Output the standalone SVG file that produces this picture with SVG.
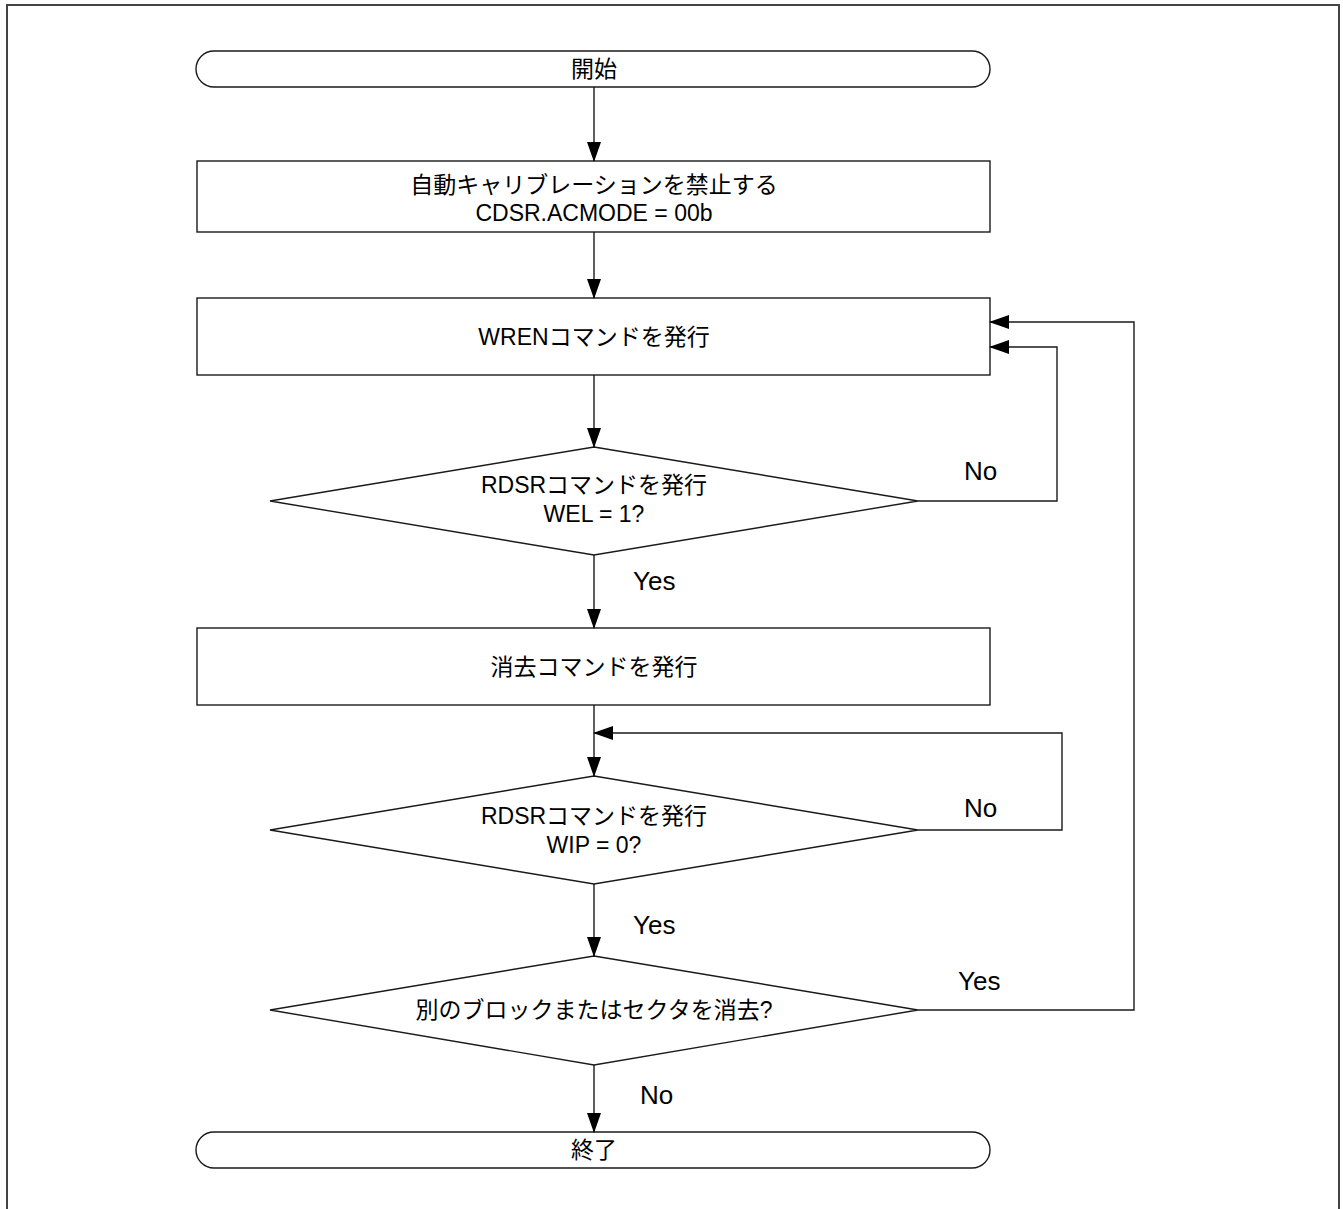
<svg xmlns="http://www.w3.org/2000/svg" width="1343" height="1209" viewBox="0 0 1343 1209">
<style>
.shape{fill:#fff;stroke:#1a1a1a;stroke-width:1.4}
.t{font-family:"Liberation Sans","Noto Sans CJK JP",sans-serif;font-size:23px;fill:#000;text-anchor:middle}
.lbl{font-family:"Liberation Sans",sans-serif;font-size:26px;fill:#000}
.edge{fill:none;stroke:#1a1a1a;stroke-width:1.4}
</style>
<defs>
<marker id="ah" markerWidth="20" markerHeight="14" refX="19" refY="7" orient="auto" markerUnits="userSpaceOnUse">
<path d="M0,0 L20,7 L0,14 Z" fill="#000"/>
</marker>
</defs>
<rect x="7" y="5" width="1332" height="1215" fill="#fff" stroke="#444" stroke-width="2"/>
<g id="start"><rect class="shape" x="196" y="51" width="794" height="36" rx="18" ry="18"/><text class="t" x="594" y="77">開始</text></g>
<g id="disable"><rect class="shape" x="197" y="161" width="793" height="71"/><text class="t" x="594" y="193">自動キャリブレーションを禁止する</text><text class="t" x="594" y="221">CDSR.ACMODE = 00b</text></g>
<g id="wren"><rect class="shape" x="197" y="298" width="793" height="77"/><text class="t" x="594" y="345">WRENコマンドを発行</text></g>
<g id="check_wel"><polygon class="shape" points="594,447 918,501 594,555 270,501"/><text class="t" x="594" y="493">RDSRコマンドを発行</text><text class="t" x="594" y="522">WEL = 1?</text></g>
<g id="erase"><rect class="shape" x="197" y="628" width="793" height="77"/><text class="t" x="594" y="675">消去コマンドを発行</text></g>
<g id="check_wip"><polygon class="shape" points="594,776 918,830 594,884 270,830"/><text class="t" x="594" y="824">RDSRコマンドを発行</text><text class="t" x="594" y="853">WIP = 0?</text></g>
<g id="another"><polygon class="shape" points="594,956 918,1010 594,1065 270,1010"/><text class="t" x="594" y="1018">別のブロックまたはセクタを消去?</text></g>
<g id="end"><rect class="shape" x="196" y="1132" width="794" height="36" rx="18" ry="18"/><text class="t" x="594" y="1158">終了</text></g>
<g id="connectors">
<line class="edge" x1="594" y1="87" x2="594" y2="161" marker-end="url(#ah)"/>
<line class="edge" x1="594" y1="232" x2="594" y2="298" marker-end="url(#ah)"/>
<line class="edge" x1="594" y1="375" x2="594" y2="447" marker-end="url(#ah)"/>
<line class="edge" x1="594" y1="555" x2="594" y2="628" marker-end="url(#ah)"/>
<line class="edge" x1="594" y1="705" x2="594" y2="776" marker-end="url(#ah)"/>
<line class="edge" x1="594" y1="884" x2="594" y2="956" marker-end="url(#ah)"/>
<line class="edge" x1="594" y1="1065" x2="594" y2="1132" marker-end="url(#ah)"/>
<polyline class="edge" points="918,501 1057,501 1057,347 990,347" marker-end="url(#ah)"/>
<polyline class="edge" points="918,830 1062,830 1062,733 594,733" marker-end="url(#ah)"/>
<polyline class="edge" points="918,1010 1134,1010 1134,322 990,322" marker-end="url(#ah)"/>
<text class="lbl" x="633" y="590">Yes</text>
<text class="lbl" x="964" y="480">No</text>
<text class="lbl" x="964" y="817">No</text>
<text class="lbl" x="633" y="934">Yes</text>
<text class="lbl" x="958" y="990">Yes</text>
<text class="lbl" x="640" y="1104">No</text>
</g>
</svg>
